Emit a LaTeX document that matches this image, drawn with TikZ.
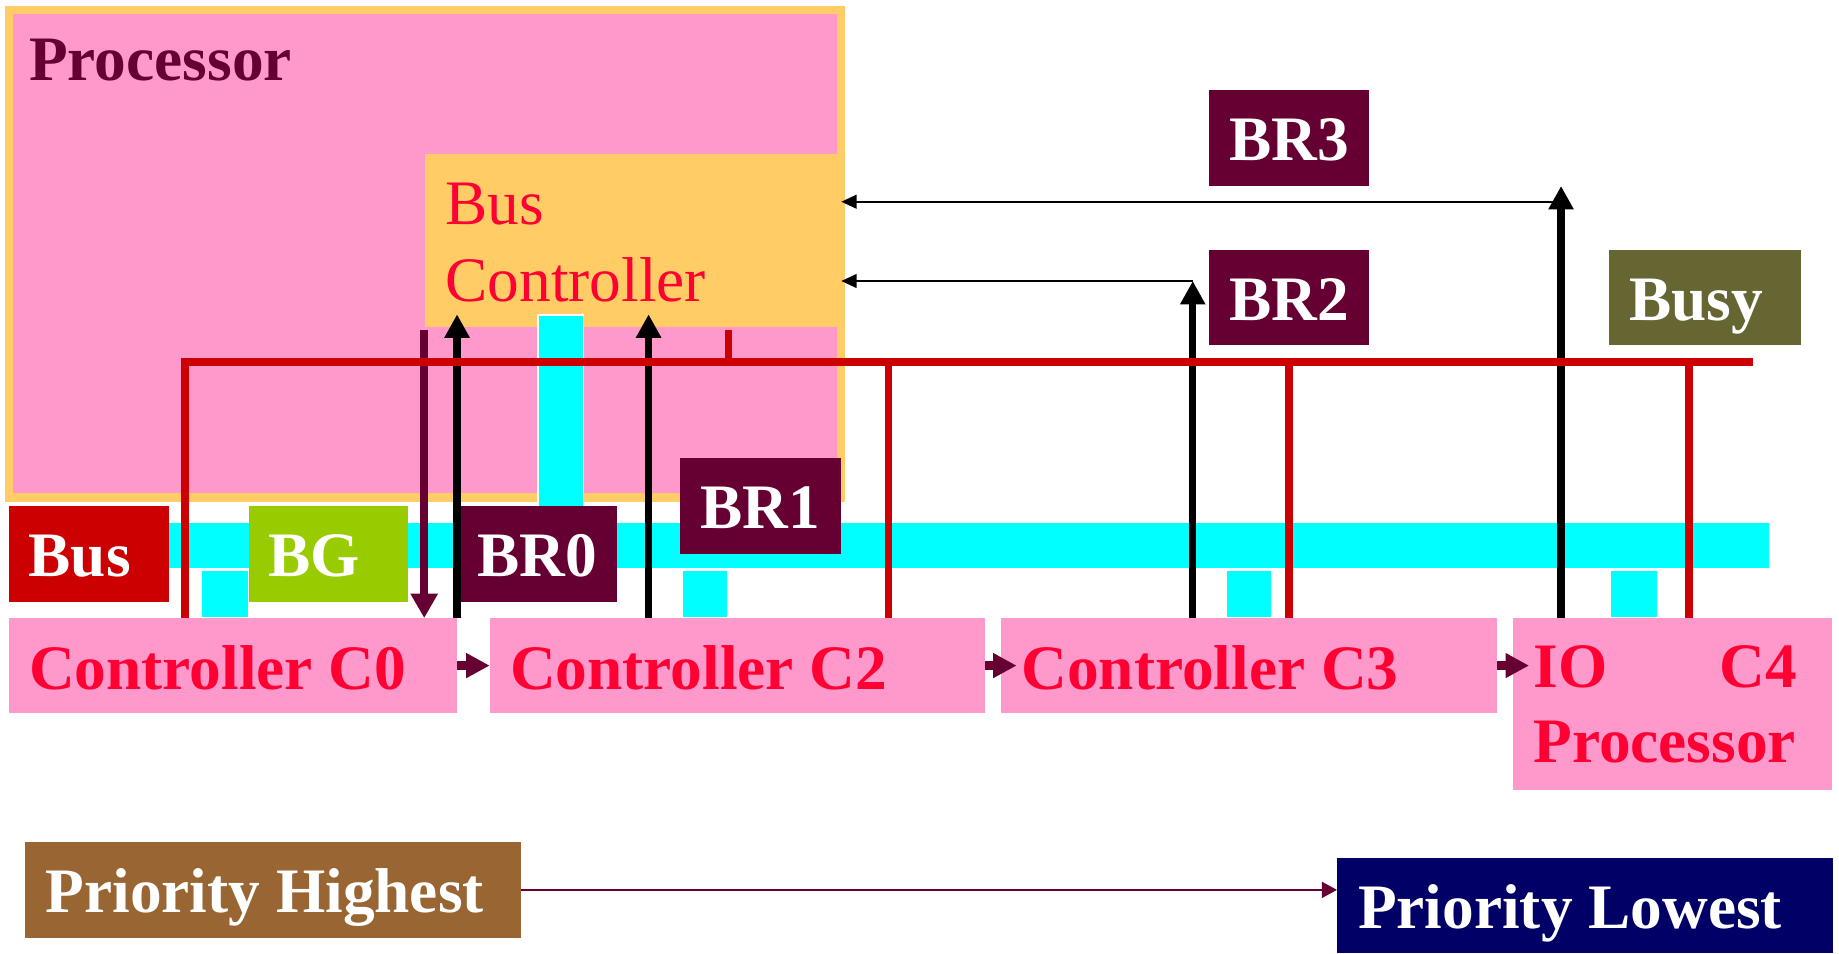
\documentclass[tikz,border=0pt]{standalone}
\usepackage{fontspec}
\setmainfont{Liberation Serif}
\usetikzlibrary{arrows.meta,calc}

\definecolor{cpink}{HTML}{FF99CC}
\definecolor{corange}{HTML}{FFCC66}
\definecolor{ccyan}{HTML}{00FFFF}
\definecolor{cbusy}{HTML}{CC0000}
\definecolor{ctext}{HTML}{FF0033}
\definecolor{cmaroon}{HTML}{660033}
\definecolor{cgreen}{HTML}{99CC00}
\definecolor{colive}{HTML}{666633}
\definecolor{cbrown}{HTML}{996633}
\definecolor{cnavy}{HTML}{000066}

\newcommand\labfont{\bfseries\fontsize{27}{32}\selectfont}
\newcommand\bcfont{\fontsize{27}{32.75}\selectfont}
% keep the font's own interword space inside fixed-width nodes
\newcommand\plainspace{\spaceskip=0pt\xspaceskip=0pt\relax}

\tikzset{
  x=0.5pt, y=-0.5pt,
  box/.style={rectangle, inner sep=0pt, outer sep=0pt, anchor=north west},
  tag/.style={box, fill=#1, text=white, font=\labfont, inner xsep=8.5pt,
    minimum height=40.75pt, text height=19.5pt, text depth=0pt},
  ctl/.style={box, fill=cpink, text=ctext, font=\labfont, inner xsep=8.75pt},
  oneline/.style={minimum height=40.5pt, text height=20.5pt, text depth=0pt},
  tap/.style={box, fill=ccyan, draw=white, line width=0.6pt},
  brline/.style={draw=black, line width=3.1pt, -{Triangle[length=10pt,width=10.2pt]}},
  thinarrow/.style={draw=black, line width=0.9pt, -{Triangle[length=6.5pt,width=5.8pt]}},
  grant/.style={draw=cmaroon, line width=3.2pt, -{Triangle[length=10.4pt,width=11pt]}},
  chain/.style={draw=cmaroon, line width=3.5pt, -{Triangle[length=10pt,width=10pt]}},
  prio/.style={draw=cmaroon, line width=1.15pt, -{Triangle[length=6.5pt,width=6.7pt]}},
  busy/.style={draw=cbusy, line width=3.1pt},
}

\begin{document}
\begin{tikzpicture}
\useasboundingbox (0,0) rectangle (1568,813.4);

% processor with its bus controller
\node[box, fill=cpink, draw=corange, line width=3.5pt,
      minimum width=354.55pt, minimum height=207.8pt] (proc) at (7.7,8.5) {};
\node[box, fill=corange, text=ctext, font=\bcfont,
      inner xsep=8.75pt, text width=161.4pt,
      minimum width=178.9pt, minimum height=73.6pt] (bc) at (362.5,131.3)
      {\rule{0pt}{19.8pt}Bus\\Controller};
\node[anchor=base west, inner sep=0pt, text=cmaroon, font=\labfont] (plabel)
      at (24.5,68.8) {Processor};

% system bus and its taps
\node[tap, minimum width=19.35pt, minimum height=88.7pt] (stub) at (458.7,268.6) {};
\node[box, fill=ccyan, minimum width=704pt, minimum height=19.2pt] (bus) at (100,446) {};
\node[tap, minimum width=20.25pt, minimum height=20pt] (sq0) at (171.5,486.6) {};
\node[tap, minimum width=19.65pt, minimum height=20pt] (sq2) at (581.5,486.6) {};
\node[tap, minimum width=19.55pt, minimum height=20pt] (sq3) at (1045.5,486.6) {};
\node[tap, minimum width=20pt, minimum height=20pt] (sq4) at (1373,486.6) {};

% controllers
\node[ctl, oneline, minimum width=191.3pt, text width=173.8pt] (c0) at (7.4,527) {\plainspace Controller C0};
\node[ctl, oneline, minimum width=211.25pt, text width=193.75pt] (c2) at (417.5,527) {\plainspace Controller C2};
\node[ctl, oneline, minimum width=211.5pt, text width=194pt] (c3) at (853.5,527) {\plainspace Controller C3};
\node[ctl, inner xsep=8.5pt, minimum width=136pt, minimum height=73.5pt, text width=119pt]
      (c4) at (1290.4,527) {IO\hfill C4\kern6.5pt\\Processor};

% signal tags
\node[tag=cbusy, minimum width=68.3pt, text width=51.3pt] (tbus) at (7.4,431.5) {Bus};
\node[tag=cgreen, minimum width=68pt, text width=51pt] (tbg) at (212,431.5) {BG};
\node[tag=cmaroon, minimum width=68pt, text width=51pt] (tbr0) at (390,431.5) {BR0};
\node[tag=cmaroon, minimum width=68.5pt, text width=51.5pt] (tbr1) at (580,390.5) {BR1};
\node[tag=cmaroon, minimum width=68pt, text width=51pt] (tbr2) at (1031,213) {BR2};
\node[tag=cmaroon, minimum width=68pt, text width=51pt] (tbr3) at (1031,77) {BR3};
\node[tag=colive, minimum width=81.8pt, text width=64.8pt] (tbusy) at (1372,213) {Busy};

% priority scale
\node[tag=cbrown, inner xsep=8.75pt, minimum width=211.25pt, text width=193.75pt] (tph) at (21.5,718) {\plainspace Priority Highest};
\node[tag=cnavy, inner xsep=9pt, minimum width=211.5pt, minimum height=40.55pt, text width=193.5pt] (tpl) at (1140,731.6) {\plainspace Priority Lowest};

% line positions
\coordinate (br0x) at (389.7,0);
\coordinate (br1x) at (553,0);
\coordinate (br2x) at (1017,0);
\coordinate (br2top) at (1017,239.6);
\coordinate (br3x) at (1331,0);
\coordinate (br3top) at (1331,158.6);
\coordinate (br3turn) at (1331,172);
\coordinate (bgtop) at (361.7,281.4);
\coordinate (busyL) at (157.8,308.7);
\coordinate (busyR) at (1495,308.7);
\coordinate (k2) at (757.5,308.7);
\coordinate (k3) at (1099,308.7);
\coordinate (k4) at (1440,308.7);
\coordinate (pstub) at (621,281.4);

% bus request lines
\draw[brline] (c0.north -| br0x) -- ($(bc.south -| br0x)+(0,-10.5)$);
\draw[brline] (c2.north -| br1x) -- ($(bc.south -| br1x)+(0,-10.5)$);
\draw[brline] (c3.north -| br2x) -- (br2top);
\draw[thinarrow] (br2top) -- ($(bc.east |- br2top)+(-3,0)$);
\draw[brline] (c4.north -| br3x) -- (br3top);
\draw[thinarrow] (br3turn) -- ($(bc.east |- br3turn)+(-3,0)$);

% bus grant
\draw[grant] (bgtop) -- (c0.north -| bgtop);

% busy line
\draw[busy] (c0.north -| busyL) -- (busyL) -- (busyR);
\draw[busy] (k2) -- (c2.north -| k2);
\draw[busy] (k3) -- (c3.north -| k3);
\draw[busy] (k4) -- (c4.north -| k4);
\draw[busy] (pstub) -- (pstub |- busyL);

% daisy chain
\draw[chain] (c0.east) -- (c2.west);
\draw[chain] (c2.east) -- ($(c3.west)+(13.3,0)$);
\draw[chain] (c3.east) -- ($(c3.east -| c4.west)+(13.3,0)$);

% priority direction
\draw[prio] (tph.east) -- (tph.east -| tpl.west);
\end{tikzpicture}
\end{document}
